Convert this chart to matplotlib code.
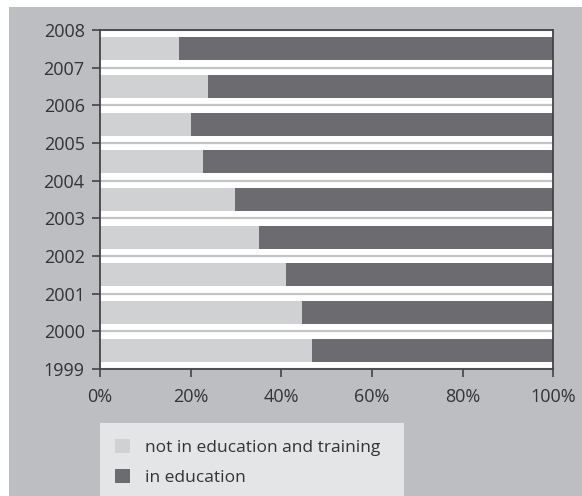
import matplotlib
matplotlib.use('Agg')
import matplotlib.pyplot as plt
from matplotlib.patches import Rectangle, Patch
from matplotlib.ticker import PercentFormatter

years = [1999, 2000, 2001, 2002, 2003, 2004, 2005, 2006, 2007]
not_in_edu = [46.8, 44.6, 41.0, 35.1, 29.8, 22.7, 20.1, 23.8, 17.4]
in_edu = [100 - v for v in not_in_edu]
year_ticks = list(range(1999, 2009))

light = '#d0d1d3'
dark = '#6b6b70'
bg = '#bdbec2'
txt = '#333333'

plt.rcParams['font.family'] = ['Open Sans', 'DejaVu Sans']

W, H = 582, 496
fig = plt.figure(figsize=(W / 100, H / 100), dpi=100)
fig.patch.set_facecolor('white')
fig.patches.append(Rectangle((9 / W, 0), 1 - 9 / W, (H - 7) / H,
                             transform=fig.transFigure, facecolor=bg,
                             edgecolor='none', zorder=-10))
# legend background box
fig.patches.append(Rectangle((100 / W, 0), (404 - 100) / W, (H - 423) / H,
                             transform=fig.transFigure, facecolor='#e4e5e7',
                             edgecolor='none', zorder=-5))

ax = fig.add_axes([100 / W, 1 - 369 / H, (553.3 - 100) / W, (369 - 30) / H])
ax.set_facecolor('white')

ypos = [y + 0.5 for y in years]
ax.barh(ypos, not_in_edu, height=0.61, color=light, zorder=2)
ax.barh(ypos, in_edu, left=not_in_edu, height=0.61, color=dark, zorder=2)

ax.set_xlim(0, 100)
ax.set_ylim(1999, 2008)
ax.set_yticks(year_ticks)
ax.set_xticks([0, 20, 40, 60, 80, 100])
ax.xaxis.set_major_formatter(PercentFormatter(decimals=0))
ax.grid(axis='y', color='#c4c4c6', linewidth=1.6, zorder=1)
ax.set_axisbelow(True)

for s in ax.spines.values():
    s.set_color('#444448')
    s.set_linewidth(1.3)
ax.tick_params(axis='both', colors='#444448', labelcolor=txt, labelsize=13,
               length=6, width=1.2)
ax.tick_params(axis='x', pad=8)
ax.tick_params(axis='y', pad=5)

handles = [Patch(facecolor=light, edgecolor='none', label='not in education and training'),
           Patch(facecolor=dark, edgecolor='none', label='in education')]
leg = fig.legend(handles=handles, loc='upper left',
                 bbox_to_anchor=(115 / W, 1 - 439 / H),
                 frameon=False, fontsize=12.5, handlelength=0.85,
                 handleheight=0.9, handletextpad=0.9, labelspacing=0.72,
                 borderaxespad=0, borderpad=0)
for t in leg.get_texts():
    t.set_color(txt)

fig.savefig('out.png', dpi=100)
